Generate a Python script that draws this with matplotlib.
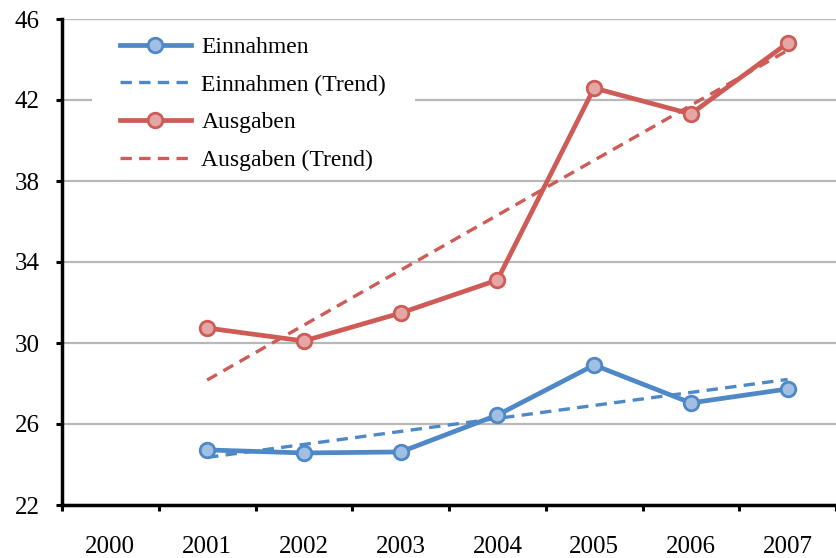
import matplotlib
matplotlib.use("Agg")
import matplotlib.pyplot as plt
from matplotlib.ticker import FixedLocator, NullFormatter
from matplotlib.patches import Rectangle

categories = ["2000", "2001", "2002", "2003", "2004", "2005", "2006", "2007"]
years_data = ["2001", "2002", "2003", "2004", "2005", "2006", "2007"]
einnahmen = [24.72, 24.57, 24.62, 26.44, 28.91, 27.04, 27.73]
ausgaben = [30.74, 30.10, 31.48, 33.11, 42.59, 41.31, 44.81]
trend_years = ["2001", "2007"]
einnahmen_trend = [24.35, 28.2]
ausgaben_trend = [28.17, 44.45]
yticks = [22, 26, 30, 34, 38, 42, 46]

blue = "#4E88C6"
blue_face = "#A0BFE2"
red = "#CE5B55"
red_face = "#E3A8A6"

plt.rcParams["font.family"] = ["Liberation Serif", "DejaVu Serif"]

W, H = 836, 558
fig = plt.figure(figsize=(W / 100, H / 100), dpi=100)
ax = fig.add_axes([62 / W, 53 / H, 1 - 62 / W, 486 / H])

pos = {c: i for i, c in enumerate(categories)}
xd = [pos[y] for y in years_data]
xt = [pos[y] for y in trend_years]

ax.plot(xd, einnahmen, color=blue, lw=3.4, marker="o", ms=10.5, mfc=blue_face,
        mec=blue, mew=2.0, label="Einnahmen", zorder=4)
ax.plot(xt, einnahmen_trend, color=blue, lw=2.4, ls=(0, (3.4, 2.2)),
        label="Einnahmen (Trend)", zorder=3)
ax.plot(xd, ausgaben, color=red, lw=3.4, marker="o", ms=10.5, mfc=red_face,
        mec=red, mew=2.0, label="Ausgaben", zorder=4)
ax.plot(xt, ausgaben_trend, color=red, lw=2.4, ls=(0, (3.4, 2.2)),
        label="Ausgaben (Trend)", zorder=3)

ax.set_xlim(-0.5, len(categories) - 0.5)
ax.set_ylim(22, 46)
ax.set_yticks(yticks)
ax.set_yticklabels([str(v) for v in yticks])
ax.xaxis.set_major_locator(FixedLocator([i - 0.5 for i in range(len(categories) + 1)]))
ax.xaxis.set_major_formatter(NullFormatter())
ax.xaxis.set_minor_locator(FixedLocator(list(range(len(categories)))))
ax.set_xticklabels(categories, minor=True)
ax.tick_params(axis="x", which="major", direction="out", length=4, width=2.2)
ax.tick_params(axis="x", which="minor", length=0, pad=22, labelsize=18)
ax.tick_params(axis="y", direction="out", length=4, width=2.2, pad=12, labelsize=18)

ax.grid(axis="y", color="#B8B8B8", lw=1.6, zorder=0)
ax.set_axisbelow(True)
for s in ["top", "right"]:
    ax.spines[s].set_visible(False)
for s in ["left", "bottom"]:
    ax.spines[s].set_linewidth(2.5)
    ax.spines[s].set_color("black")
    ax.spines[s].set_zorder(5)

# white background behind legend (pixel box converted to axes fraction)
x0 = (92 - 62) / 774
x1 = (415 - 62) / 774
y0 = (505 - 174) / 486
y1 = (505 - 22) / 486
ax.add_patch(Rectangle((x0, y0), x1 - x0, y1 - y0, transform=ax.transAxes,
                       facecolor="white", edgecolor="none", zorder=1))

leg = ax.legend(loc="upper left", bbox_to_anchor=((120 - 62) / 774, (505 - 36.5) / 486),
                frameon=False, fontsize=17, handlelength=3.0, handletextpad=0.45,
                labelspacing=0.68, borderpad=0, borderaxespad=0)
leg.set_zorder(2)

fig.savefig("out.png", dpi=100)
